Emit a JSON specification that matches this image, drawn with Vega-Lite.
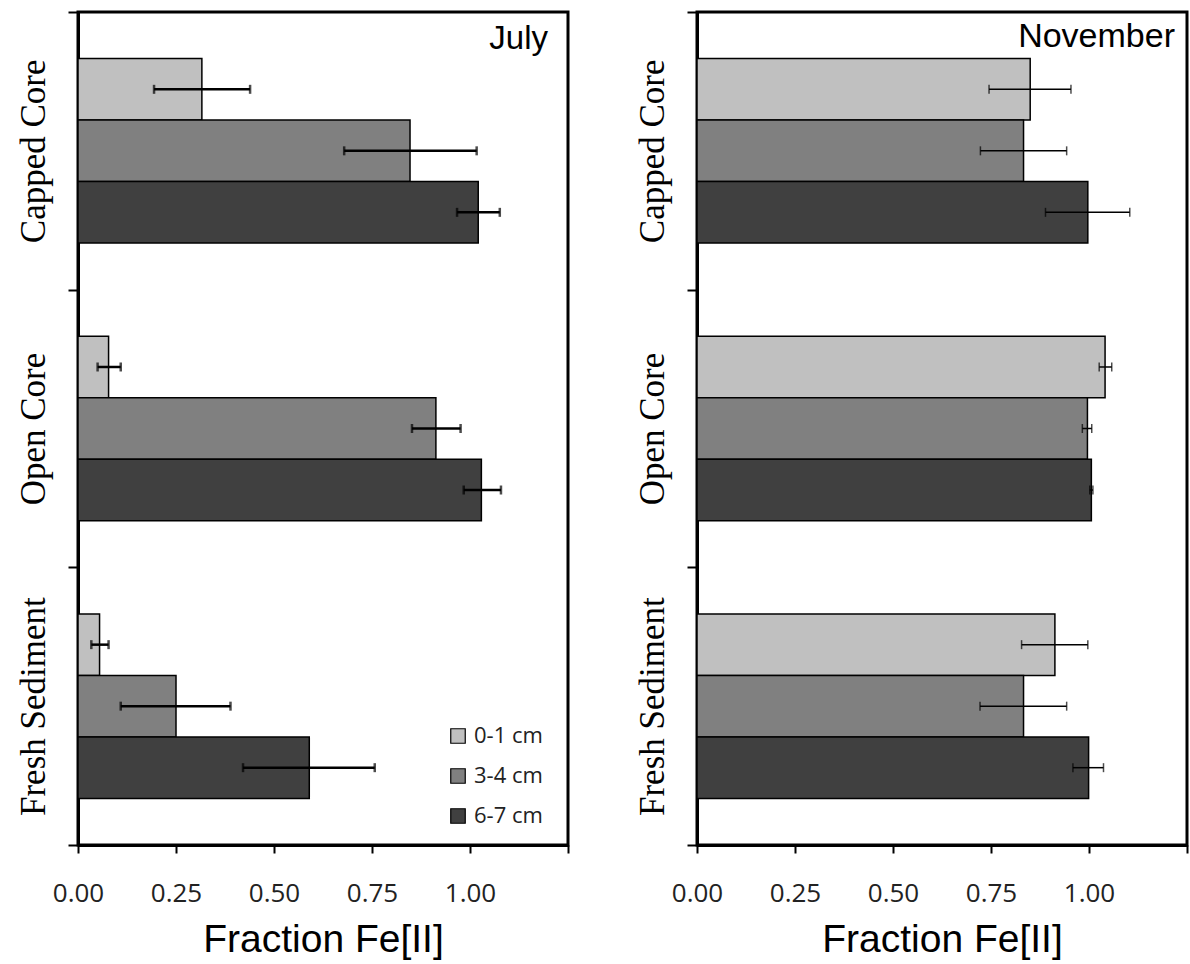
{
  "$schema": "https://vega.github.io/schema/vega-lite/v6.json",
  "background": "white",
  "padding": {"left": 14, "top": 9, "right": 0, "bottom": 0},
  "spacing": 62,
  "data": {
    "values": [
      {"month": "July", "site": "Capped Core", "depth": "0-1 cm", "value": 0.316, "lo": 0.194, "hi": 0.439},
      {"month": "July", "site": "Capped Core", "depth": "3-4 cm", "value": 0.847, "lo": 0.679, "hi": 1.017},
      {"month": "July", "site": "Capped Core", "depth": "6-7 cm", "value": 1.021, "lo": 0.967, "hi": 1.076},
      {"month": "July", "site": "Open Core", "depth": "0-1 cm", "value": 0.078, "lo": 0.050, "hi": 0.109},
      {"month": "July", "site": "Open Core", "depth": "3-4 cm", "value": 0.913, "lo": 0.852, "hi": 0.976},
      {"month": "July", "site": "Open Core", "depth": "6-7 cm", "value": 1.029, "lo": 0.984, "hi": 1.079},
      {"month": "July", "site": "Fresh Sediment", "depth": "0-1 cm", "value": 0.055, "lo": 0.034, "hi": 0.078},
      {"month": "July", "site": "Fresh Sediment", "depth": "3-4 cm", "value": 0.250, "lo": 0.109, "hi": 0.389},
      {"month": "July", "site": "Fresh Sediment", "depth": "6-7 cm", "value": 0.590, "lo": 0.421, "hi": 0.757},
      {"month": "November", "site": "Capped Core", "depth": "0-1 cm", "value": 0.850, "lo": 0.745, "hi": 0.954},
      {"month": "November", "site": "Capped Core", "depth": "3-4 cm", "value": 0.833, "lo": 0.723, "hi": 0.943},
      {"month": "November", "site": "Capped Core", "depth": "6-7 cm", "value": 0.997, "lo": 0.889, "hi": 1.104},
      {"month": "November", "site": "Open Core", "depth": "0-1 cm", "value": 1.041, "lo": 1.026, "hi": 1.058},
      {"month": "November", "site": "Open Core", "depth": "3-4 cm", "value": 0.996, "lo": 0.983, "hi": 1.007},
      {"month": "November", "site": "Open Core", "depth": "6-7 cm", "value": 1.006, "lo": 1.002, "hi": 1.010},
      {"month": "November", "site": "Fresh Sediment", "depth": "0-1 cm", "value": 0.913, "lo": 0.828, "hi": 0.997},
      {"month": "November", "site": "Fresh Sediment", "depth": "3-4 cm", "value": 0.833, "lo": 0.722, "hi": 0.943},
      {"month": "November", "site": "Fresh Sediment", "depth": "6-7 cm", "value": 0.999, "lo": 0.959, "hi": 1.037}
    ]
  },
  "config": {
    "view": {"stroke": "black", "strokeWidth": 3},
    "axis": {"grid": false, "domainColor": "black", "domainWidth": 3, "tickColor": "black", "tickWidth": 2},
    "axisX": {"labelFont": "Open Sans", "labelFontSize": 26, "labelColor": "#222", "tickSize": 8, "labelPadding": 27, "labelFlush": false,
      "titleFont": "Liberation Sans", "titleFontSize": 39, "titleFontWeight": "normal", "titleColor": "black", "titlePadding": 14},
    "axisY": {"labelFont": "Liberation Serif", "labelFontSize": 35, "labelColor": "black", "labelAngle": -90, "labelLimit": 0,
      "labelAlign": "center", "labelBaseline": "alphabetic", "tickSize": 10, "labelPadding": 24, "tickBand": "extent"},
    "legend": {"orient": "none", "legendX": 369, "legendY": 713, "symbolType": "square", "symbolSize": 210,
      "symbolStrokeColor": "black", "symbolStrokeWidth": 1.2, "labelFont": "Open Sans", "labelFontSize": 22,
      "labelColor": "#222", "rowPadding": 18, "labelOffset": 5, "padding": 0, "title": null}
  },
  "resolve": {"scale": {"color": "independent"}, "legend": {"color": "independent"}},
  "hconcat": [
    {
      "width": 490, "height": 833,
      "transform": [{"filter": "datum.month === 'July'"}],
      "layer": [
        {
          "mark": {"type": "bar", "stroke": "black", "strokeWidth": 1.5},
          "encoding": {
            "y": {"field": "site", "type": "nominal", "sort": ["Capped Core", "Open Core", "Fresh Sediment"],
              "scale": {"paddingInner": 0, "paddingOuter": 0}, "axis": {"title": null}},
            "yOffset": {"field": "depth", "type": "nominal", "sort": ["0-1 cm", "3-4 cm", "6-7 cm"],
              "scale": {"paddingInner": 0, "paddingOuter": 0.757}},
            "x": {"field": "value", "type": "quantitative", "scale": {"domain": [0, 1.25], "nice": false},
              "title": "Fraction Fe[II]",
              "axis": {"values": [0, 0.25, 0.5, 0.75, 1, 1.25], "labelExpr": "datum.value > 1.2 ? '' : format(datum.value, '.2f')"}},
            "color": {"field": "depth", "type": "nominal", "sort": ["0-1 cm", "3-4 cm", "6-7 cm"],
              "scale": {"domain": ["0-1 cm", "3-4 cm", "6-7 cm"], "range": ["#c0c0c0", "#808080", "#404040"]}}
          }
        },
        {
          "mark": {"type": "rule", "color": "black", "strokeWidth": 2.5},
          "encoding": {
            "y": {"field": "site", "type": "nominal", "sort": ["Capped Core", "Open Core", "Fresh Sediment"]},
            "yOffset": {"field": "depth", "type": "nominal", "sort": ["0-1 cm", "3-4 cm", "6-7 cm"]},
            "x": {"field": "lo", "type": "quantitative"}, "x2": {"field": "hi"}}
        },
        {
          "mark": {"type": "tick", "color": "black", "thickness": 2.5, "size": 9},
          "encoding": {
            "y": {"field": "site", "type": "nominal", "sort": ["Capped Core", "Open Core", "Fresh Sediment"]},
            "yOffset": {"field": "depth", "type": "nominal", "sort": ["0-1 cm", "3-4 cm", "6-7 cm"]},
            "x": {"field": "lo", "type": "quantitative"}}
        },
        {
          "mark": {"type": "tick", "color": "black", "thickness": 2.5, "size": 9},
          "encoding": {
            "y": {"field": "site", "type": "nominal", "sort": ["Capped Core", "Open Core", "Fresh Sediment"]},
            "yOffset": {"field": "depth", "type": "nominal", "sort": ["0-1 cm", "3-4 cm", "6-7 cm"]},
            "x": {"field": "hi", "type": "quantitative"}}
        },
        {
          "data": {"values": [{"month": "July", "label": "July"}]},
          "mark": {"type": "text", "align": "right", "baseline": "alphabetic", "dx": -20, "dy": 37,
            "font": "Liberation Sans", "fontSize": 33, "color": "black"},
          "encoding": {
            "text": {"field": "label"},
            "x": {"datum": 1.25},
            "y": {"datum": "Capped Core", "bandPosition": 0}
          }
        }
      ]
    },
    {
      "width": 490, "height": 833,
      "transform": [{"filter": "datum.month === 'November'"}],
      "layer": [
        {
          "mark": {"type": "bar", "stroke": "black", "strokeWidth": 1.5},
          "encoding": {
            "y": {"field": "site", "type": "nominal", "sort": ["Capped Core", "Open Core", "Fresh Sediment"],
              "scale": {"paddingInner": 0, "paddingOuter": 0}, "axis": {"title": null}},
            "yOffset": {"field": "depth", "type": "nominal", "sort": ["0-1 cm", "3-4 cm", "6-7 cm"],
              "scale": {"paddingInner": 0, "paddingOuter": 0.757}},
            "x": {"field": "value", "type": "quantitative", "scale": {"domain": [0, 1.25], "nice": false},
              "title": "Fraction Fe[II]",
              "axis": {"values": [0, 0.25, 0.5, 0.75, 1, 1.25], "labelExpr": "datum.value > 1.2 ? '' : format(datum.value, '.2f')"}},
            "color": {"field": "depth", "type": "nominal", "sort": ["0-1 cm", "3-4 cm", "6-7 cm"],
              "scale": {"domain": ["0-1 cm", "3-4 cm", "6-7 cm"], "range": ["#c0c0c0", "#808080", "#404040"]},
              "legend": null}
          }
        },
        {
          "mark": {"type": "rule", "color": "black", "strokeWidth": 1.5},
          "encoding": {
            "y": {"field": "site", "type": "nominal", "sort": ["Capped Core", "Open Core", "Fresh Sediment"]},
            "yOffset": {"field": "depth", "type": "nominal", "sort": ["0-1 cm", "3-4 cm", "6-7 cm"]},
            "x": {"field": "lo", "type": "quantitative"}, "x2": {"field": "hi"}}
        },
        {
          "mark": {"type": "tick", "color": "black", "thickness": 1.5, "size": 9},
          "encoding": {
            "y": {"field": "site", "type": "nominal", "sort": ["Capped Core", "Open Core", "Fresh Sediment"]},
            "yOffset": {"field": "depth", "type": "nominal", "sort": ["0-1 cm", "3-4 cm", "6-7 cm"]},
            "x": {"field": "lo", "type": "quantitative"}}
        },
        {
          "mark": {"type": "tick", "color": "black", "thickness": 1.5, "size": 9},
          "encoding": {
            "y": {"field": "site", "type": "nominal", "sort": ["Capped Core", "Open Core", "Fresh Sediment"]},
            "yOffset": {"field": "depth", "type": "nominal", "sort": ["0-1 cm", "3-4 cm", "6-7 cm"]},
            "x": {"field": "hi", "type": "quantitative"}}
        },
        {
          "data": {"values": [{"month": "November", "label": "November"}]},
          "mark": {"type": "text", "align": "right", "baseline": "alphabetic", "dx": -12, "dy": 35,
            "font": "Liberation Sans", "fontSize": 34, "color": "black"},
          "encoding": {
            "text": {"field": "label"},
            "x": {"datum": 1.25},
            "y": {"datum": "Capped Core", "bandPosition": 0}
          }
        }
      ]
    }
  ]
}
